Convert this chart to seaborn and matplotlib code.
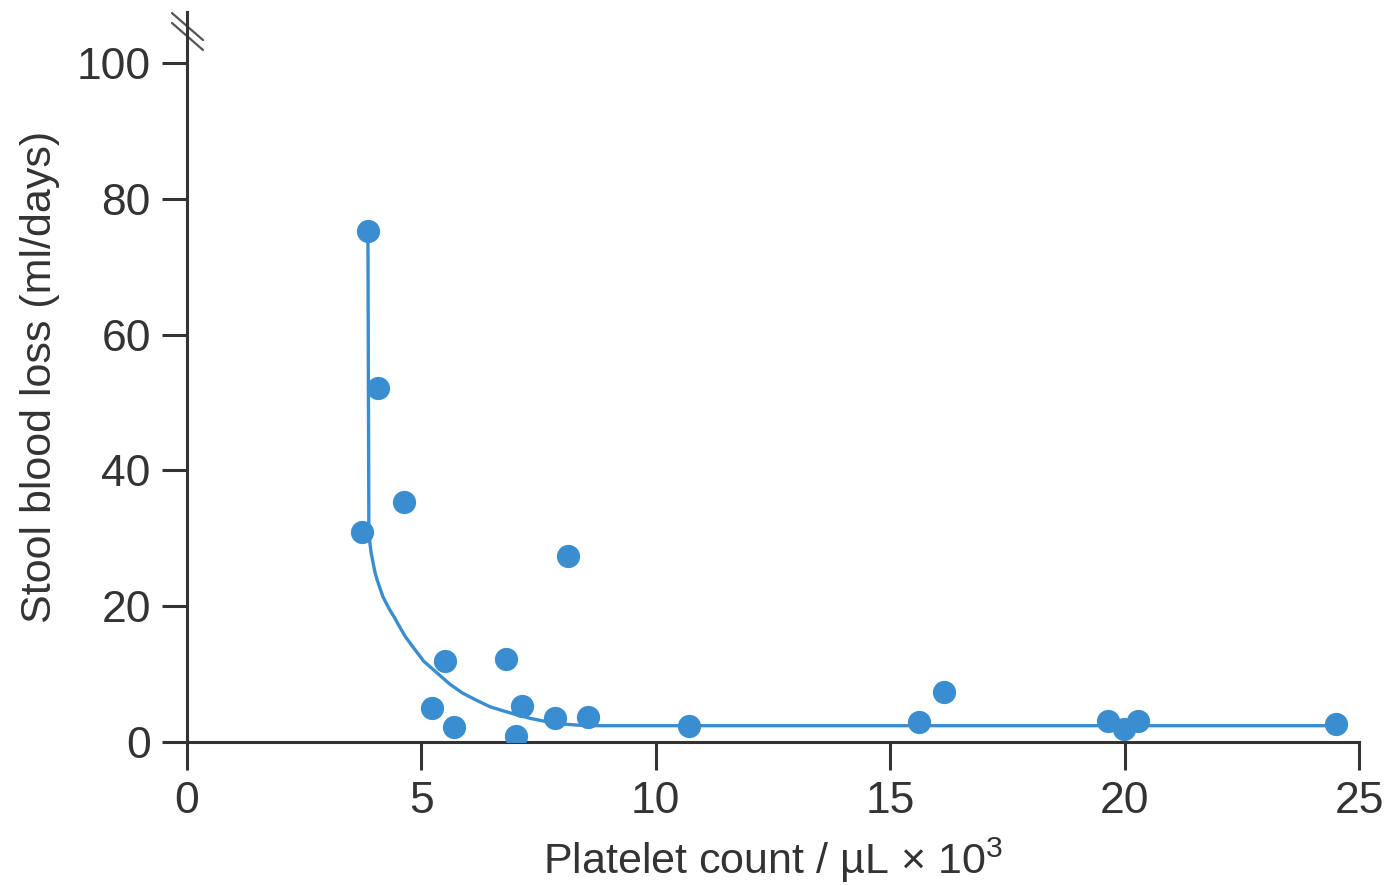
import matplotlib
matplotlib.use("Agg")
import matplotlib.pyplot as plt
import seaborn as sns
import pandas as pd

# data
platelets = [3.86, 4.07, 3.73, 4.63, 8.12, 5.50, 6.80, 5.22, 5.69, 7.14,
             7.01, 7.85, 8.55, 10.70, 15.61, 16.14, 19.64, 19.98, 20.28, 24.50]
blood_loss = [75.3, 52.1, 30.9, 35.3, 27.4, 11.9, 12.2, 5.0, 2.2, 5.3,
              0.9, 3.5, 3.7, 2.4, 2.9, 7.4, 3.1, 1.9, 3.1, 2.7]

# fitted curve
curve_x = [3.86, 3.88, 3.90, 3.93, 3.97, 4.01, 4.06, 4.12, 4.18, 4.26, 4.33,
           4.42, 4.50, 4.65, 4.82, 5.05, 5.33, 5.61, 5.88, 6.16, 6.46, 6.74,
           7.04, 7.31, 7.59, 7.85, 8.10, 8.40, 8.74, 24.50]
curve_y = [75.3, 31.2, 29.4, 27.8, 26.4, 25.0, 23.8, 22.6, 21.4, 20.3, 19.4,
           18.4, 17.4, 15.6, 14.0, 11.9, 10.2, 8.5, 7.2, 6.2, 5.2, 4.6,
           4.0, 3.5, 3.1, 2.8, 2.6, 2.45, 2.4, 2.4]

x_ticks = [0, 5, 10, 15, 20, 25]
y_ticks = [0, 20, 40, 60, 80, 100]

df = pd.DataFrame({"x": platelets, "y": blood_loss})
df_curve = pd.DataFrame({"x": curve_x, "y": curve_y})

sns.set_style("ticks")
plt.rcParams["font.family"] = ["Liberation Sans", "DejaVu Sans"]
plt.rcParams["mathtext.default"] = "regular"

blue = "#3a8dcf"
ink = "#333333"

fig = plt.figure(figsize=(13.9, 8.85), dpi=100)
ax = fig.add_axes([0.1345, 0.1616, 0.8432, 0.8248])

sns.lineplot(data=df_curve, x="x", y="y", ax=ax, color=blue, linewidth=2.4,
             sort=False, estimator=None)
sns.scatterplot(data=df, x="x", y="y", ax=ax, color=blue, s=280,
                edgecolor=blue, linewidth=0, zorder=3)

ax.set_xlim(0, 25)
ax.set_ylim(0, 107.5)
ax.set_xticks(x_ticks)
ax.set_yticks(y_ticks)

sns.despine(ax=ax)
for side in ["left", "bottom"]:
    ax.spines[side].set_color(ink)
    ax.spines[side].set_linewidth(2.2)

ax.tick_params(axis="both", direction="out", width=2.2, color=ink,
               labelcolor=ink, labelsize=32)
ax.tick_params(axis="y", length=18, pad=8)
ax.tick_params(axis="x", length=20, pad=8)

ax.set_xlabel("Platelet count / µL × 10$^{3}$", fontsize=31, color=ink, labelpad=10)
ax.set_ylabel("Stool blood loss (ml/days)", fontsize=31, color=ink, labelpad=12)

# axis break mark at the top of the y axis
for y0 in [0.9986, 0.985]:
    ax.plot([-0.0128, 0.0137], [y0, y0 - 0.037], transform=ax.transAxes,
            color="#555555", lw=1.6, clip_on=False)

fig.savefig("out.png", dpi=100)
